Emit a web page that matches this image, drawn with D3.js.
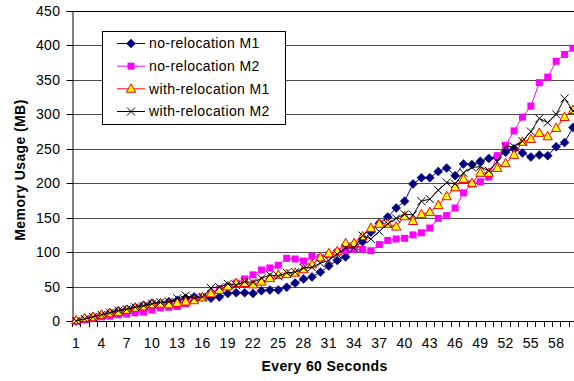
<!DOCTYPE html>
<html>
<head>
<meta charset="utf-8">
<script src="https://cdn.jsdelivr.net/npm/d3@7"></script>
<style>
  body { margin: 0; background: #fff; }
  svg { display: block; font-family: "Liberation Sans", Arial, sans-serif; }
  svg text { letter-spacing: 0.4px; }
</style>
</head>
<body>
<div id="chart"></div>
<script>
// Memory usage per minute, with and without relocation
const minutes = d3.range(1, 61);
const tickLabels = d3.range(1, 61, 3);
const yTicks = d3.range(0, 451, 50);

const noRelocM1 = [0, 3, 6, 9, 12, 15, 17, 20, 23, 26, 26, 28, 30, 33, 35, 35, 33, 35, 40, 41,
  41, 40, 44, 45, 45, 49, 55, 61, 64, 71, 80, 88, 93, 107, 115, 129, 142, 151, 164, 174,
  199, 208, 208, 217, 222, 211, 228, 227, 232, 236, 238, 245, 250, 244, 238, 241, 240, 253, 259, 281];
const noRelocM2 = [0, 2, 4, 6, 7, 9, 10, 12, 13, 16, 19, 20, 21, 25, 30, 35, 40, 46, 50, 55,
  61, 67, 74, 77, 81, 91, 90, 87, 94, 92, 96, 100, 102, 104, 104, 102, 111, 117, 119, 120,
  125, 128, 135, 149, 153, 164, 186, 199, 202, 209, 240, 255, 276, 296, 312, 346, 354, 377, 387, 396];
const withRelocM1 = [1, 4, 6, 9, 11, 13, 16, 19, 21, 24, 25, 24, 26, 28, 30, 34, 40, 45, 50, 55,
  55, 53, 57, 62, 67, 68, 70, 75, 82, 92, 98, 101, 113, 113, 123, 135, 141, 141, 137, 152,
  145, 155, 158, 168, 181, 194, 206, 200, 215, 215, 222, 229, 241, 260, 264, 273, 268, 280, 296, 306];
const withRelocM2 = [0, 3, 6, 9, 12, 15, 17, 20, 22, 25, 27, 28, 33, 37, 33, 35, 48, 49, 54, 52,
  57, 56, 62, 67, 65, 70, 71, 77, 78, 84, 88, 97, 106, 106, 124, 119, 130, 141, 149, 155,
  154, 174, 177, 190, 201, 199, 215, 223, 224, 218, 231, 253, 253, 261, 275, 294, 288, 300, 323, 305];

const seriesNames = ["no-relocation M1", "no-relocation M2", "with-relocation M1", "with-relocation M2"];

const series = [
  { name: seriesNames[0], values: noRelocM1, line: "#000080", marker: "diamond", fill: "#000080", stroke: "#000080" },
  { name: seriesNames[1], values: noRelocM2, line: "#ff00ff", marker: "square", fill: "#ff00ff", stroke: "#ff00ff" },
  { name: seriesNames[2], values: withRelocM1, line: "#ff0000", marker: "triangle", fill: "#ffff00", stroke: "#ff0000" },
  { name: seriesNames[3], values: withRelocM2, line: "#000000", marker: "cross", fill: "none", stroke: "#000000" }
];

const width = 574, height = 381;
const plot = { left: 72, right: 577.2, top: 11, bottom: 321 };
const fontSize = 14;

const svg = d3.select("#chart").append("svg")
    .attr("width", width)
    .attr("height", height);

const x = d3.scaleBand()
    .domain(minutes)
    .range([plot.left, plot.right]);

const y = d3.scaleLinear()
    .domain([0, 450])
    .range([plot.bottom, plot.top]);

// gridlines
svg.append("g")
  .selectAll("line")
  .data(yTicks.filter(d => d > 0))
  .join("line")
    .attr("x1", plot.left)
    .attr("x2", plot.right)
    .attr("y1", d => Math.round(y(d)) + 0.5)
    .attr("y2", d => Math.round(y(d)) + 0.5)
    .attr("stroke", d => d === 450 ? "#000" : "#4d4d4d")
    .attr("stroke-width", 1);

// y axis
const yAxis = svg.append("g")
    .attr("transform", `translate(${plot.left + 0.5},0)`)
    .call(d3.axisLeft(y).tickValues(yTicks).tickSize(6).tickPadding(6));
yAxis.select(".domain").attr("stroke", "#000");
yAxis.selectAll("line").attr("stroke", "#000");
yAxis.selectAll("text").attr("font-size", fontSize).attr("fill", "#000")
    .attr("font-family", "Liberation Sans, Arial, sans-serif");
yAxis.selectAll(".tick").attr("transform", d => `translate(0,${Math.round(y(d)) + 0.5})`);

// x axis: tick marks on category boundaries
const xAxis = svg.append("g");
xAxis.append("line")
    .attr("x1", plot.left)
    .attr("x2", plot.right)
    .attr("y1", plot.bottom + 0.5)
    .attr("y2", plot.bottom + 0.5)
    .attr("stroke", "#000");
xAxis.selectAll(".xt")
  .data(minutes)
  .join("line")
    .attr("class", "xt")
    .attr("x1", d => Math.round(x(d)) + 0.5)
    .attr("x2", d => Math.round(x(d)) + 0.5)
    .attr("y1", plot.bottom)
    .attr("y2", plot.bottom + 6)
    .attr("stroke", "#000");
xAxis.selectAll(".xl")
  .data(tickLabels)
  .join("text")
    .attr("class", "xl")
    .attr("x", d => x(d) + x.bandwidth() / 2)
    .attr("y", 348)
    .attr("text-anchor", "middle")
    .attr("font-size", fontSize)
    .text(d => d);

// axis titles
svg.append("text")
    .attr("x", (plot.left + plot.right) / 2)
    .attr("y", 371)
    .attr("text-anchor", "middle")
    .attr("font-size", fontSize)
    .attr("font-weight", "bold")
    .text("Every 60 Seconds");

svg.append("text")
    .attr("transform", "translate(25,170) rotate(-90)")
    .attr("text-anchor", "middle")
    .attr("font-size", fontSize)
    .attr("font-weight", "bold")
    .text("Memory Usage (MB)");

// marker shapes
function drawMarker(sel, s) {
  if (s.marker === "diamond") {
    sel.append("path").attr("d", "M0,-4.5L4.5,0L0,4.5L-4.5,0Z")
      .attr("fill", s.fill).attr("stroke", s.stroke).attr("stroke-width", 0.5);
  } else if (s.marker === "square") {
    sel.append("rect").attr("x", -3.5).attr("y", -3.5).attr("width", 7).attr("height", 7)
      .attr("fill", s.fill);
  } else if (s.marker === "triangle") {
    sel.append("path").attr("d", "M0,-5L4.6,3.4L-4.6,3.4Z")
      .attr("fill", s.fill).attr("stroke", s.stroke).attr("stroke-width", 1);
  } else {
    sel.append("path").attr("d", "M-4,-4L4,4M-4,4L4,-4")
      .attr("fill", "none").attr("stroke", s.stroke).attr("stroke-width", 1);
  }
}

const line = d3.line()
    .x((d, i) => x(minutes[i]) + x.bandwidth() / 2)
    .y(d => y(d));

series.forEach(s => {
  const g = svg.append("g");
  g.append("path")
    .datum(s.values)
    .attr("fill", "none")
    .attr("stroke", s.line)
    .attr("stroke-width", 1)
    .attr("d", line);
  g.selectAll("g.m")
    .data(s.values)
    .join("g")
      .attr("class", "m")
      .attr("transform", (d, i) => `translate(${x(minutes[i]) + x.bandwidth() / 2},${y(d)})`)
      .each(function () { drawMarker(d3.select(this), s); });
});

// legend
const legend = svg.append("g");
legend.append("rect")
    .attr("x", 102.5)
    .attr("y", 31.5)
    .attr("width", 183)
    .attr("height", 93)
    .attr("fill", "#fff")
    .attr("stroke", "#000");

const legendY = d3.scalePoint().domain(seriesNames).range([43.5, 111.5]);
series.forEach(s => {
  const ly = legendY(s.name);
  legend.append("line")
    .attr("x1", 117).attr("x2", 145)
    .attr("y1", ly).attr("y2", ly)
    .attr("stroke", s.line);
  const m = legend.append("g").attr("transform", `translate(131,${ly})`);
  drawMarker(m, s);
  legend.append("text")
    .attr("x", 149)
    .attr("y", ly)
    .attr("dy", "0.35em")
    .attr("font-size", fontSize)
    .text(s.name);
});
</script>
</body>
</html>
